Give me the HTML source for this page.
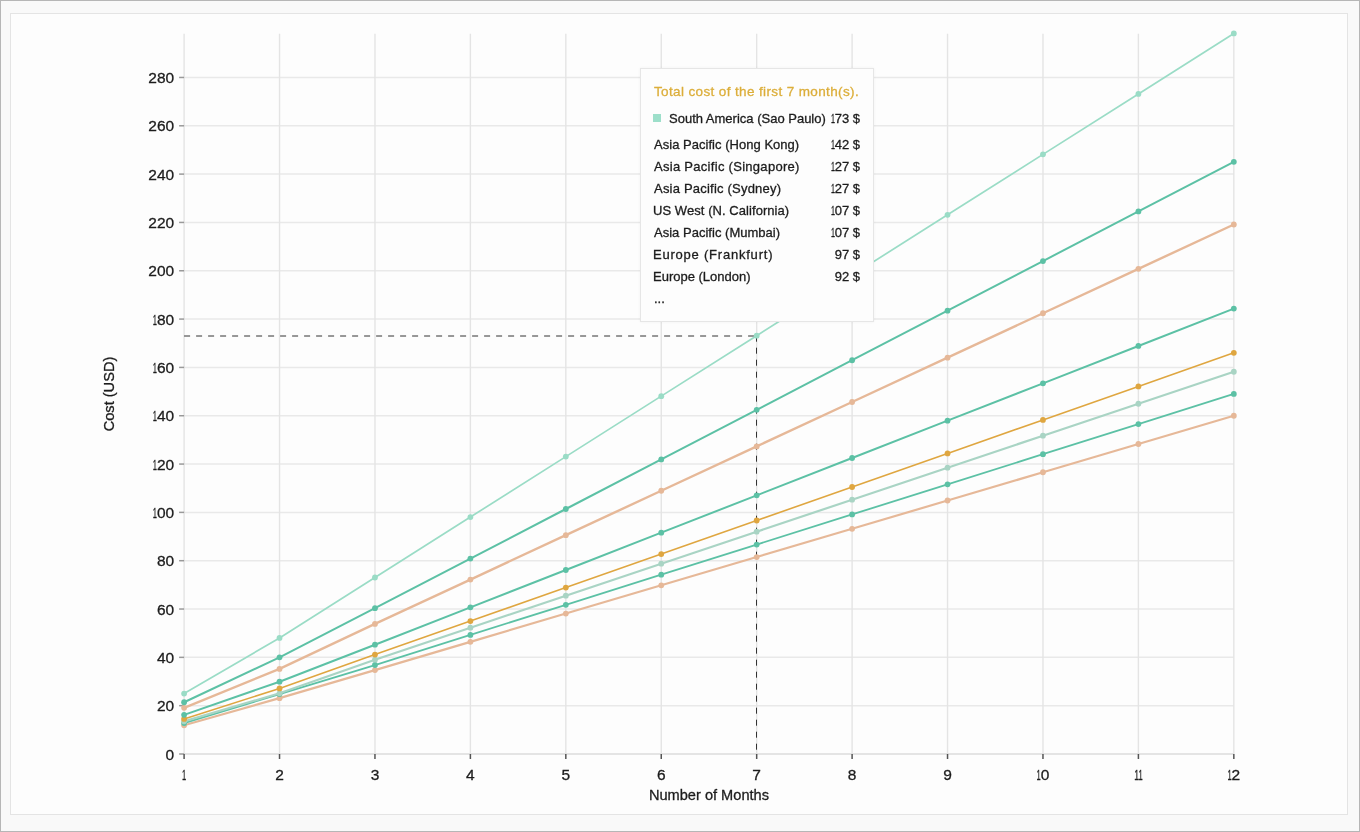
<!DOCTYPE html>
<html><head><meta charset="utf-8"><title>Cost chart</title>
<style>
html,body{margin:0;padding:0;}
body{width:1360px;height:832px;position:relative;overflow:hidden;background:#f9f9f9;box-sizing:border-box;border:1px solid #b6b6b6;font-family:"Liberation Sans",sans-serif;}
.panel{position:absolute;left:9px;top:12px;width:1336px;height:800px;border:1px solid #e4e4e4;background:#fdfdfd;}
svg{position:absolute;left:-1px;top:-1px;}
.ax{font-size:15.5px;fill:#1c1c1c;stroke:#1c1c1c;stroke-width:0.3px;}
.nm{font-size:14.6px;fill:#1c1c1c;stroke:#1c1c1c;stroke-width:0.3px;}
.tip{position:absolute;left:639px;top:67px;width:232px;height:252px;border:1px solid #e6e6e6;background:#fdfdfd;box-shadow:0 0 3px rgba(0,0,0,0.05);font-size:13px;color:#1c1c1c;-webkit-text-stroke:0.3px currentColor;}
.tip .t{position:absolute;left:13px;top:15px;color:#dcae3a;white-space:nowrap;letter-spacing:0.37px;font-size:13.5px;}
.tip .sa{position:absolute;left:13px;top:41.5px;width:206px;white-space:nowrap;}
.tip .sq{display:inline-block;width:8px;height:8px;background:#9ddfca;margin-right:8px;margin-left:-1px;position:relative;top:-1px;vertical-align:0px;}
.tip .rows{position:absolute;left:13px;top:67.5px;width:206px;}
.tip .row{height:22px;white-space:nowrap;display:flex;justify-content:space-between;}
.tip .v{text-align:right;}
.one{display:inline-block;width:4px;transform:scaleX(0.55);transform-origin:0 0;}
.tip .more{position:absolute;left:13px;top:222px;}
</style></head>
<body>
<div class="panel"></div>
<svg width="1360" height="832" viewBox="0 0 1360 832" font-family="Liberation Sans, sans-serif">
<line x1="184.1" y1="754.00" x2="1233.83" y2="754.00" stroke="#e9e9e9" stroke-width="1.5"/>
<line x1="184.1" y1="705.68" x2="1233.83" y2="705.68" stroke="#e9e9e9" stroke-width="1.5"/>
<line x1="184.1" y1="657.35" x2="1233.83" y2="657.35" stroke="#e9e9e9" stroke-width="1.5"/>
<line x1="184.1" y1="609.03" x2="1233.83" y2="609.03" stroke="#e9e9e9" stroke-width="1.5"/>
<line x1="184.1" y1="560.70" x2="1233.83" y2="560.70" stroke="#e9e9e9" stroke-width="1.5"/>
<line x1="184.1" y1="512.38" x2="1233.83" y2="512.38" stroke="#e9e9e9" stroke-width="1.5"/>
<line x1="184.1" y1="464.06" x2="1233.83" y2="464.06" stroke="#e9e9e9" stroke-width="1.5"/>
<line x1="184.1" y1="415.73" x2="1233.83" y2="415.73" stroke="#e9e9e9" stroke-width="1.5"/>
<line x1="184.1" y1="367.41" x2="1233.83" y2="367.41" stroke="#e9e9e9" stroke-width="1.5"/>
<line x1="184.1" y1="319.08" x2="1233.83" y2="319.08" stroke="#e9e9e9" stroke-width="1.5"/>
<line x1="184.1" y1="270.76" x2="1233.83" y2="270.76" stroke="#e9e9e9" stroke-width="1.5"/>
<line x1="184.1" y1="222.44" x2="1233.83" y2="222.44" stroke="#e9e9e9" stroke-width="1.5"/>
<line x1="184.1" y1="174.11" x2="1233.83" y2="174.11" stroke="#e9e9e9" stroke-width="1.5"/>
<line x1="184.1" y1="125.79" x2="1233.83" y2="125.79" stroke="#e9e9e9" stroke-width="1.5"/>
<line x1="184.1" y1="77.46" x2="1233.83" y2="77.46" stroke="#e9e9e9" stroke-width="1.5"/>
<line x1="184.10" y1="33.70" x2="184.10" y2="754.0" stroke="#e4e4e4" stroke-width="1.4"/>
<line x1="279.53" y1="33.70" x2="279.53" y2="754.0" stroke="#e4e4e4" stroke-width="1.4"/>
<line x1="374.96" y1="33.70" x2="374.96" y2="754.0" stroke="#e4e4e4" stroke-width="1.4"/>
<line x1="470.39" y1="33.70" x2="470.39" y2="754.0" stroke="#e4e4e4" stroke-width="1.4"/>
<line x1="565.82" y1="33.70" x2="565.82" y2="754.0" stroke="#e4e4e4" stroke-width="1.4"/>
<line x1="661.25" y1="33.70" x2="661.25" y2="754.0" stroke="#e4e4e4" stroke-width="1.4"/>
<line x1="756.68" y1="33.70" x2="756.68" y2="754.0" stroke="#e4e4e4" stroke-width="1.4"/>
<line x1="852.11" y1="33.70" x2="852.11" y2="754.0" stroke="#e4e4e4" stroke-width="1.4"/>
<line x1="947.54" y1="33.70" x2="947.54" y2="754.0" stroke="#e4e4e4" stroke-width="1.4"/>
<line x1="1042.97" y1="33.70" x2="1042.97" y2="754.0" stroke="#e4e4e4" stroke-width="1.4"/>
<line x1="1138.40" y1="33.70" x2="1138.40" y2="754.0" stroke="#e4e4e4" stroke-width="1.4"/>
<line x1="1233.83" y1="33.70" x2="1233.83" y2="754.0" stroke="#e4e4e4" stroke-width="1.4"/>
<line x1="184.1" y1="754.0" x2="1233.83" y2="754.0" stroke="#e0e0e0" stroke-width="1.5"/>
<line x1="179.1" y1="754.00" x2="184.1" y2="754.00" stroke="#999" stroke-width="1.5"/>
<line x1="179.1" y1="705.68" x2="184.1" y2="705.68" stroke="#999" stroke-width="1.5"/>
<line x1="179.1" y1="657.35" x2="184.1" y2="657.35" stroke="#999" stroke-width="1.5"/>
<line x1="179.1" y1="609.03" x2="184.1" y2="609.03" stroke="#999" stroke-width="1.5"/>
<line x1="179.1" y1="560.70" x2="184.1" y2="560.70" stroke="#999" stroke-width="1.5"/>
<line x1="179.1" y1="512.38" x2="184.1" y2="512.38" stroke="#999" stroke-width="1.5"/>
<line x1="179.1" y1="464.06" x2="184.1" y2="464.06" stroke="#999" stroke-width="1.5"/>
<line x1="179.1" y1="415.73" x2="184.1" y2="415.73" stroke="#999" stroke-width="1.5"/>
<line x1="179.1" y1="367.41" x2="184.1" y2="367.41" stroke="#999" stroke-width="1.5"/>
<line x1="179.1" y1="319.08" x2="184.1" y2="319.08" stroke="#999" stroke-width="1.5"/>
<line x1="179.1" y1="270.76" x2="184.1" y2="270.76" stroke="#999" stroke-width="1.5"/>
<line x1="179.1" y1="222.44" x2="184.1" y2="222.44" stroke="#999" stroke-width="1.5"/>
<line x1="179.1" y1="174.11" x2="184.1" y2="174.11" stroke="#999" stroke-width="1.5"/>
<line x1="179.1" y1="125.79" x2="184.1" y2="125.79" stroke="#999" stroke-width="1.5"/>
<line x1="179.1" y1="77.46" x2="184.1" y2="77.46" stroke="#999" stroke-width="1.5"/>
<line x1="184.10" y1="754.0" x2="184.10" y2="759.0" stroke="#555" stroke-width="1.5"/>
<line x1="279.53" y1="754.0" x2="279.53" y2="759.0" stroke="#555" stroke-width="1.5"/>
<line x1="374.96" y1="754.0" x2="374.96" y2="759.0" stroke="#555" stroke-width="1.5"/>
<line x1="470.39" y1="754.0" x2="470.39" y2="759.0" stroke="#555" stroke-width="1.5"/>
<line x1="565.82" y1="754.0" x2="565.82" y2="759.0" stroke="#555" stroke-width="1.5"/>
<line x1="661.25" y1="754.0" x2="661.25" y2="759.0" stroke="#555" stroke-width="1.5"/>
<line x1="756.68" y1="754.0" x2="756.68" y2="759.0" stroke="#555" stroke-width="1.5"/>
<line x1="852.11" y1="754.0" x2="852.11" y2="759.0" stroke="#555" stroke-width="1.5"/>
<line x1="947.54" y1="754.0" x2="947.54" y2="759.0" stroke="#555" stroke-width="1.5"/>
<line x1="1042.97" y1="754.0" x2="1042.97" y2="759.0" stroke="#555" stroke-width="1.5"/>
<line x1="1138.40" y1="754.0" x2="1138.40" y2="759.0" stroke="#555" stroke-width="1.5"/>
<line x1="1233.83" y1="754.0" x2="1233.83" y2="759.0" stroke="#555" stroke-width="1.5"/>
<text x="174.2" y="759.55" text-anchor="end" class="ax">0</text>
<text x="174.2" y="711.23" text-anchor="end" class="ax">20</text>
<text x="174.2" y="662.90" text-anchor="end" class="ax">40</text>
<text x="174.2" y="614.58" text-anchor="end" class="ax">60</text>
<text x="174.2" y="566.25" text-anchor="end" class="ax">80</text>
<text x="174.2" y="517.93" text-anchor="end" class="ax"><tspan textLength="4.2" lengthAdjust="spacingAndGlyphs">1</tspan>00</text>
<text x="174.2" y="469.61" text-anchor="end" class="ax"><tspan textLength="4.2" lengthAdjust="spacingAndGlyphs">1</tspan>20</text>
<text x="174.2" y="421.28" text-anchor="end" class="ax"><tspan textLength="4.2" lengthAdjust="spacingAndGlyphs">1</tspan>40</text>
<text x="174.2" y="372.96" text-anchor="end" class="ax"><tspan textLength="4.2" lengthAdjust="spacingAndGlyphs">1</tspan>60</text>
<text x="174.2" y="324.63" text-anchor="end" class="ax"><tspan textLength="4.2" lengthAdjust="spacingAndGlyphs">1</tspan>80</text>
<text x="174.2" y="276.31" text-anchor="end" class="ax">200</text>
<text x="174.2" y="227.99" text-anchor="end" class="ax">220</text>
<text x="174.2" y="179.66" text-anchor="end" class="ax">240</text>
<text x="174.2" y="131.34" text-anchor="end" class="ax">260</text>
<text x="174.2" y="83.01" text-anchor="end" class="ax">280</text>
<text x="184.10" y="780.2" text-anchor="middle" class="ax"><tspan textLength="4.2" lengthAdjust="spacingAndGlyphs">1</tspan></text>
<text x="279.53" y="780.2" text-anchor="middle" class="ax">2</text>
<text x="374.96" y="780.2" text-anchor="middle" class="ax">3</text>
<text x="470.39" y="780.2" text-anchor="middle" class="ax">4</text>
<text x="565.82" y="780.2" text-anchor="middle" class="ax">5</text>
<text x="661.25" y="780.2" text-anchor="middle" class="ax">6</text>
<text x="756.68" y="780.2" text-anchor="middle" class="ax">7</text>
<text x="852.11" y="780.2" text-anchor="middle" class="ax">8</text>
<text x="947.54" y="780.2" text-anchor="middle" class="ax">9</text>
<text x="1042.97" y="780.2" text-anchor="middle" class="ax"><tspan textLength="4.2" lengthAdjust="spacingAndGlyphs">1</tspan>0</text>
<text x="1138.40" y="780.2" text-anchor="middle" class="ax"><tspan textLength="4.2" lengthAdjust="spacingAndGlyphs">1</tspan><tspan textLength="4.2" lengthAdjust="spacingAndGlyphs">1</tspan></text>
<text x="1233.83" y="780.2" text-anchor="middle" class="ax"><tspan textLength="4.2" lengthAdjust="spacingAndGlyphs">1</tspan>2</text>
<text x="708.96" y="799.6" text-anchor="middle" class="nm">Number of Months</text>
<text transform="translate(114.3,394) rotate(-90)" text-anchor="middle" class="nm">Cost (USD)</text>
<line x1="184.1" y1="336" x2="756.68" y2="336" stroke="#333" stroke-width="1" stroke-dasharray="6 6"/>
<line x1="756.5" y1="335.70" x2="756.5" y2="754.0" stroke="#333" stroke-width="1" stroke-dasharray="6 6"/>
<polyline points="184.10,725.23 279.53,698.15 374.96,670.10 470.39,641.84 565.82,613.57 661.25,585.31 756.68,557.05 852.11,528.79 947.54,500.52 1042.97,472.26 1138.40,444.00 1233.83,415.74" fill="none" stroke="#e6b898" stroke-width="2.2" stroke-linejoin="round"/>
<circle cx="184.10" cy="725.23" r="2.9" fill="#e6b898"/>
<circle cx="279.53" cy="698.15" r="2.9" fill="#e6b898"/>
<circle cx="374.96" cy="670.10" r="2.9" fill="#e6b898"/>
<circle cx="470.39" cy="641.84" r="2.9" fill="#e6b898"/>
<circle cx="565.82" cy="613.57" r="2.9" fill="#e6b898"/>
<circle cx="661.25" cy="585.31" r="2.9" fill="#e6b898"/>
<circle cx="756.68" cy="557.05" r="2.9" fill="#e6b898"/>
<circle cx="852.11" cy="528.79" r="2.9" fill="#e6b898"/>
<circle cx="947.54" cy="500.52" r="2.9" fill="#e6b898"/>
<circle cx="1042.97" cy="472.26" r="2.9" fill="#e6b898"/>
<circle cx="1138.40" cy="444.00" r="2.9" fill="#e6b898"/>
<circle cx="1233.83" cy="415.74" r="2.9" fill="#e6b898"/>
<polyline points="184.10,723.05 279.53,694.04 374.96,665.02 470.39,634.90 565.82,604.79 661.25,574.67 756.68,544.56 852.11,514.44 947.54,484.32 1042.97,454.21 1138.40,424.09 1233.83,393.97" fill="none" stroke="#5cc1a5" stroke-width="1.8" stroke-linejoin="round"/>
<circle cx="184.10" cy="723.05" r="2.9" fill="#5cc1a5"/>
<circle cx="279.53" cy="694.04" r="2.9" fill="#5cc1a5"/>
<circle cx="374.96" cy="665.02" r="2.9" fill="#5cc1a5"/>
<circle cx="470.39" cy="634.90" r="2.9" fill="#5cc1a5"/>
<circle cx="565.82" cy="604.79" r="2.9" fill="#5cc1a5"/>
<circle cx="661.25" cy="574.67" r="2.9" fill="#5cc1a5"/>
<circle cx="756.68" cy="544.56" r="2.9" fill="#5cc1a5"/>
<circle cx="852.11" cy="514.44" r="2.9" fill="#5cc1a5"/>
<circle cx="947.54" cy="484.32" r="2.9" fill="#5cc1a5"/>
<circle cx="1042.97" cy="454.21" r="2.9" fill="#5cc1a5"/>
<circle cx="1138.40" cy="424.09" r="2.9" fill="#5cc1a5"/>
<circle cx="1233.83" cy="393.97" r="2.9" fill="#5cc1a5"/>
<polyline points="184.10,721.36 279.53,693.31 374.96,659.70 470.39,627.71 565.82,595.71 661.25,563.71 756.68,531.71 852.11,499.72 947.54,467.72 1042.97,435.72 1138.40,403.73 1233.83,371.73" fill="none" stroke="#a9d4c4" stroke-width="2.2" stroke-linejoin="round"/>
<circle cx="184.10" cy="721.36" r="2.9" fill="#a9d4c4"/>
<circle cx="279.53" cy="693.31" r="2.9" fill="#a9d4c4"/>
<circle cx="374.96" cy="659.70" r="2.9" fill="#a9d4c4"/>
<circle cx="470.39" cy="627.71" r="2.9" fill="#a9d4c4"/>
<circle cx="565.82" cy="595.71" r="2.9" fill="#a9d4c4"/>
<circle cx="661.25" cy="563.71" r="2.9" fill="#a9d4c4"/>
<circle cx="756.68" cy="531.71" r="2.9" fill="#a9d4c4"/>
<circle cx="852.11" cy="499.72" r="2.9" fill="#a9d4c4"/>
<circle cx="947.54" cy="467.72" r="2.9" fill="#a9d4c4"/>
<circle cx="1042.97" cy="435.72" r="2.9" fill="#a9d4c4"/>
<circle cx="1138.40" cy="403.73" r="2.9" fill="#a9d4c4"/>
<circle cx="1233.83" cy="371.73" r="2.9" fill="#a9d4c4"/>
<polyline points="184.10,718.94 279.53,688.47 374.96,654.62 470.39,621.10 565.82,587.57 661.25,554.04 756.68,520.51 852.11,486.98 947.54,453.46 1042.97,419.93 1138.40,386.40 1233.83,352.87" fill="none" stroke="#dfa640" stroke-width="1.6" stroke-linejoin="round"/>
<circle cx="184.10" cy="718.94" r="2.9" fill="#dfa640"/>
<circle cx="279.53" cy="688.47" r="2.9" fill="#dfa640"/>
<circle cx="374.96" cy="654.62" r="2.9" fill="#dfa640"/>
<circle cx="470.39" cy="621.10" r="2.9" fill="#dfa640"/>
<circle cx="565.82" cy="587.57" r="2.9" fill="#dfa640"/>
<circle cx="661.25" cy="554.04" r="2.9" fill="#dfa640"/>
<circle cx="756.68" cy="520.51" r="2.9" fill="#dfa640"/>
<circle cx="852.11" cy="486.98" r="2.9" fill="#dfa640"/>
<circle cx="947.54" cy="453.46" r="2.9" fill="#dfa640"/>
<circle cx="1042.97" cy="419.93" r="2.9" fill="#dfa640"/>
<circle cx="1138.40" cy="386.40" r="2.9" fill="#dfa640"/>
<circle cx="1233.83" cy="352.87" r="2.9" fill="#dfa640"/>
<polyline points="184.10,714.83 279.53,681.70 374.96,644.71 470.39,607.37 565.82,570.02 661.25,532.68 756.68,495.34 852.11,458.00 947.54,420.65 1042.97,383.31 1138.40,345.97 1233.83,308.62" fill="none" stroke="#5cc1a5" stroke-width="2.0" stroke-linejoin="round"/>
<circle cx="184.10" cy="714.83" r="2.9" fill="#5cc1a5"/>
<circle cx="279.53" cy="681.70" r="2.9" fill="#5cc1a5"/>
<circle cx="374.96" cy="644.71" r="2.9" fill="#5cc1a5"/>
<circle cx="470.39" cy="607.37" r="2.9" fill="#5cc1a5"/>
<circle cx="565.82" cy="570.02" r="2.9" fill="#5cc1a5"/>
<circle cx="661.25" cy="532.68" r="2.9" fill="#5cc1a5"/>
<circle cx="756.68" cy="495.34" r="2.9" fill="#5cc1a5"/>
<circle cx="852.11" cy="458.00" r="2.9" fill="#5cc1a5"/>
<circle cx="947.54" cy="420.65" r="2.9" fill="#5cc1a5"/>
<circle cx="1042.97" cy="383.31" r="2.9" fill="#5cc1a5"/>
<circle cx="1138.40" cy="345.97" r="2.9" fill="#5cc1a5"/>
<circle cx="1233.83" cy="308.62" r="2.9" fill="#5cc1a5"/>
<polyline points="184.10,707.82 279.53,668.89 374.96,623.92 470.39,579.54 565.82,535.15 661.25,490.77 756.68,446.39 852.11,402.01 947.54,357.63 1042.97,313.24 1138.40,268.86 1233.83,224.48" fill="none" stroke="#e6b898" stroke-width="2.4" stroke-linejoin="round"/>
<circle cx="184.10" cy="707.82" r="2.9" fill="#e6b898"/>
<circle cx="279.53" cy="668.89" r="2.9" fill="#e6b898"/>
<circle cx="374.96" cy="623.92" r="2.9" fill="#e6b898"/>
<circle cx="470.39" cy="579.54" r="2.9" fill="#e6b898"/>
<circle cx="565.82" cy="535.15" r="2.9" fill="#e6b898"/>
<circle cx="661.25" cy="490.77" r="2.9" fill="#e6b898"/>
<circle cx="756.68" cy="446.39" r="2.9" fill="#e6b898"/>
<circle cx="852.11" cy="402.01" r="2.9" fill="#e6b898"/>
<circle cx="947.54" cy="357.63" r="2.9" fill="#e6b898"/>
<circle cx="1042.97" cy="313.24" r="2.9" fill="#e6b898"/>
<circle cx="1138.40" cy="268.86" r="2.9" fill="#e6b898"/>
<circle cx="1233.83" cy="224.48" r="2.9" fill="#e6b898"/>
<polyline points="184.10,702.26 279.53,657.28 374.96,608.20 470.39,558.61 565.82,509.01 661.25,459.42 756.68,409.83 852.11,360.23 947.54,310.64 1042.97,261.04 1138.40,211.45 1233.83,161.86" fill="none" stroke="#5cc1a5" stroke-width="2.0" stroke-linejoin="round"/>
<circle cx="184.10" cy="702.26" r="2.9" fill="#5cc1a5"/>
<circle cx="279.53" cy="657.28" r="2.9" fill="#5cc1a5"/>
<circle cx="374.96" cy="608.20" r="2.9" fill="#5cc1a5"/>
<circle cx="470.39" cy="558.61" r="2.9" fill="#5cc1a5"/>
<circle cx="565.82" cy="509.01" r="2.9" fill="#5cc1a5"/>
<circle cx="661.25" cy="459.42" r="2.9" fill="#5cc1a5"/>
<circle cx="756.68" cy="409.83" r="2.9" fill="#5cc1a5"/>
<circle cx="852.11" cy="360.23" r="2.9" fill="#5cc1a5"/>
<circle cx="947.54" cy="310.64" r="2.9" fill="#5cc1a5"/>
<circle cx="1042.97" cy="261.04" r="2.9" fill="#5cc1a5"/>
<circle cx="1138.40" cy="211.45" r="2.9" fill="#5cc1a5"/>
<circle cx="1233.83" cy="161.86" r="2.9" fill="#5cc1a5"/>
<polyline points="184.10,693.55 279.53,637.94 374.96,577.49 470.39,517.05 565.82,456.60 661.25,396.15 756.68,335.70 852.11,275.26 947.54,214.81 1042.97,154.36 1138.40,93.91 1233.83,33.47" fill="none" stroke="#9adcc6" stroke-width="1.7" stroke-linejoin="round"/>
<circle cx="184.10" cy="693.55" r="2.9" fill="#9adcc6"/>
<circle cx="279.53" cy="637.94" r="2.9" fill="#9adcc6"/>
<circle cx="374.96" cy="577.49" r="2.9" fill="#9adcc6"/>
<circle cx="470.39" cy="517.05" r="2.9" fill="#9adcc6"/>
<circle cx="565.82" cy="456.60" r="2.9" fill="#9adcc6"/>
<circle cx="661.25" cy="396.15" r="2.9" fill="#9adcc6"/>
<circle cx="756.68" cy="335.70" r="2.9" fill="#9adcc6"/>
<circle cx="852.11" cy="275.26" r="2.9" fill="#9adcc6"/>
<circle cx="947.54" cy="214.81" r="2.9" fill="#9adcc6"/>
<circle cx="1042.97" cy="154.36" r="2.9" fill="#9adcc6"/>
<circle cx="1138.40" cy="93.91" r="2.9" fill="#9adcc6"/>
<circle cx="1233.83" cy="33.47" r="2.9" fill="#9adcc6"/>
</svg>
<div class="tip">
<div class="t">Total cost of the first 7 month(s).</div>
<div class="sa" style="display:flex;justify-content:space-between;"><span><span class="sq"></span>South America (Sao Paulo)</span><span><span class="one">1</span>73 $</span></div>
<div class="rows">
<div class="row"><span style="letter-spacing:0.03px;margin-left:0px">Asia Pacific (Hong Kong)</span><span class="v"><span class="one">1</span>42 $</span></div>
<div class="row"><span style="letter-spacing:0.29px;margin-left:0px">Asia Pacific (Singapore)</span><span class="v"><span class="one">1</span>27 $</span></div>
<div class="row"><span style="letter-spacing:0.21px;margin-left:0px">Asia Pacific (Sydney)</span><span class="v"><span class="one">1</span>27 $</span></div>
<div class="row"><span style="letter-spacing:0.06px;margin-left:-1px">US West (N. California)</span><span class="v"><span class="one">1</span>07 $</span></div>
<div class="row"><span style="letter-spacing:0.02px;margin-left:0px">Asia Pacific (Mumbai)</span><span class="v"><span class="one">1</span>07 $</span></div>
<div class="row"><span style="letter-spacing:0.78px;margin-left:-1px">Europe (Frankfurt)</span><span class="v">97 $</span></div>
<div class="row"><span style="letter-spacing:0.0px;margin-left:-1px">Europe (London)</span><span class="v">92 $</span></div>
</div>
<div class="more">...</div>
</div>
</body></html>
